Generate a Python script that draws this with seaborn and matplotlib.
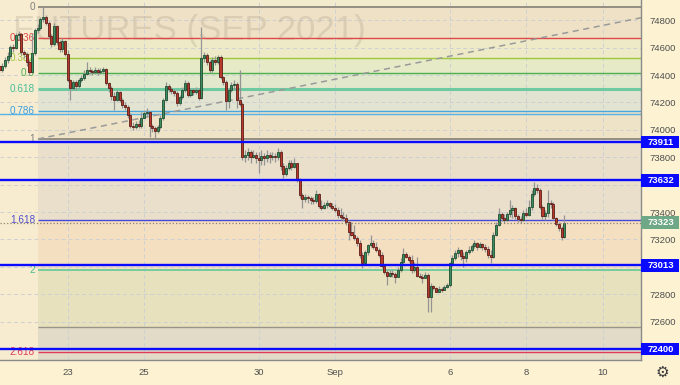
import numpy as np
import seaborn as sns
import matplotlib.pyplot as plt
from matplotlib import transforms
from matplotlib.patches import Rectangle

# hourly bars, 14 per session: Aug 19 (from 4th bar) .. Sep 9 (first bar)
first_open = 74466
closes = [74437, 74466, 74510, 74539, 74605, 74598, 74692, 74700, 74568, 74554,
          74495, 74422, 74561, 74729, 74744, 74809, 74824, 74780, 74685, 74627,
          74758, 74641, 74590, 74649, 74554, 74364, 74306, 74349, 74320, 74364,
          74379, 74408, 74437, 74430, 74422, 74437, 74422, 74430, 74444, 74342,
          74306, 74247, 74218, 74276, 74218, 74181, 74167, 74108, 74028, 74021,
          74043, 74028, 74087, 74123, 74130, 74028, 74014, 73992, 74021, 74087,
          74218, 74320, 74298, 74284, 74269, 74196, 74240, 74291, 74342, 74254,
          74291, 74276, 74291, 74233, 74525, 74546, 74495, 74437, 74510, 74495,
          74532, 74386, 74349, 74211, 74291, 74327, 74335, 74218, 74189, 73802,
          73817, 73838, 73802, 73817, 73795, 73780, 73809, 73795, 73817, 73802,
          73809, 73802, 73838, 73736, 73678, 73722, 73758, 73729, 73758, 73634,
          73525, 73495, 73510, 73503, 73488, 73481, 73532, 73444, 73430, 73452,
          73466, 73444, 73430, 73415, 73379, 73364, 73357, 73327, 73254, 73233,
          73211, 73174, 73087, 73028, 73108, 73160, 73174, 73145, 73123, 73087,
          73006, 72962, 72933, 72955, 72948, 72926, 72977, 73035, 73094, 73072,
          73050, 72977, 72999, 72933, 72926, 72919, 72941, 72780, 72860, 72846,
          72816, 72838, 72831, 72853, 72868, 73028, 73065, 73101, 73123, 73079,
          73065, 73108, 73123, 73152, 73174, 73145, 73167, 73145, 73130, 73087,
          73072, 73233, 73306, 73386, 73357, 73342, 73386, 73415, 73430, 73371,
          73349, 73342, 73393, 73379, 73437, 73532, 73576, 73561, 73437, 73371,
          73393, 73466, 73459, 73357, 73313, 73284, 73218, 73323]
highs = [74481, 74488, 74532, 74568, 74619, 74627, 74707, 74722, 74707, 74583,
         74568, 74510, 74707, 74744, 74773, 74824, 74897, 74838, 74795, 74700,
         74780, 74765, 74656, 74671, 74656, 74583, 74371, 74364, 74364, 74379,
         74400, 74437, 74495, 74459, 74444, 74459, 74452, 74452, 74459, 74452,
         74349, 74320, 74276, 74291, 74284, 74233, 74203, 74181, 74123, 74057,
         74065, 74072, 74130, 74145, 74160, 74138, 74043, 74028, 74035, 74108,
         74233, 74349, 74335, 74313, 74298, 74284, 74254, 74313, 74364, 74357,
         74306, 74306, 74313, 74306, 74751, 74568, 74561, 74510, 74532, 74539,
         74546, 74546, 74393, 74364, 74306, 74349, 74364, 74349, 74437, 74203,
         73853, 73868, 73853, 73853, 73838, 73838, 73853, 73831, 73853, 73838,
         73838, 73831, 73868, 73853, 73758, 73744, 73780, 73780, 73795, 73736,
         73649, 73539, 73532, 73525, 73517, 73510, 73561, 73539, 73488, 73473,
         73488, 73473, 73466, 73459, 73437, 73430, 73400, 73386, 73342, 73327,
         73306, 73225, 73196, 73108, 73123, 73167, 73233, 73196, 73181, 73138,
         73108, 73021, 72977, 72977, 72977, 72962, 72999, 73065, 73138, 73108,
         73087, 73087, 73035, 73072, 72955, 72948, 72962, 72955, 72882, 72868,
         72853, 72860, 72853, 72868, 72882, 73035, 73087, 73123, 73145, 73130,
         73108, 73123, 73152, 73167, 73196, 73181, 73181, 73174, 73167, 73152,
         73123, 73254, 73327, 73430, 73400, 73386, 73400, 73488, 73452, 73437,
         73386, 73371, 73415, 73430, 73488, 73561, 73619, 73605, 73576, 73452,
         73415, 73561, 73488, 73473, 73364, 73327, 73298, 73379]
lows = [74408, 74422, 74452, 74488, 74525, 74568, 74590, 74656, 74546, 74525,
        74466, 74400, 74415, 74546, 74707, 74729, 74787, 74765, 74671, 74605,
        74612, 74619, 74568, 74568, 74539, 74349, 74218, 74291, 74291, 74306,
        74349, 74364, 74400, 74408, 74400, 74408, 74400, 74408, 74415, 74327,
        74276, 74218, 74145, 74211, 74203, 74160, 74145, 74087, 74014, 73999,
        74006, 74014, 74014, 74087, 74101, 73948, 73984, 73941, 73977, 74006,
        74072, 74211, 74276, 74262, 74247, 74174, 74181, 74225, 74276, 74240,
        74240, 74254, 74262, 74218, 74225, 74495, 74473, 74415, 74422, 74473,
        74481, 74371, 74327, 74145, 74160, 74276, 74291, 74160, 74174, 73780,
        73765, 73780, 73758, 73795, 73758, 73685, 73744, 73744, 73765, 73758,
        73780, 73765, 73780, 73707, 73649, 73663, 73707, 73707, 73722, 73619,
        73503, 73430, 73473, 73466, 73459, 73459, 73466, 73430, 73415, 73422,
        73430, 73430, 73415, 73400, 73357, 73342, 73335, 73306, 73196, 73225,
        73196, 73152, 73065, 72992, 73021, 73087, 73145, 73130, 73108, 73072,
        72992, 72948, 72868, 72926, 72926, 72882, 72933, 72962, 73021, 73065,
        73035, 72955, 72962, 72926, 72919, 72882, 72926, 72670, 72670, 72831,
        72816, 72816, 72816, 72831, 72846, 72853, 73006, 73050, 73072, 73050,
        72999, 73035, 73094, 73108, 73138, 73123, 73138, 73123, 73108, 73065,
        73028, 73065, 73225, 73298, 73335, 73320, 73335, 73364, 73357, 73349,
        73327, 73320, 73335, 73364, 73371, 73415, 73517, 73539, 73422, 73349,
        73342, 73364, 73430, 73342, 73298, 73262, 73196, 73211]

day_labels = ['23', '25', '30', 'Sep', '6', '8', '10']
day_bars = [25, 53, 95, 123, 165, 193, 221]
price_ticks = list(range(72600, 74801, 200))
hidden_ticks = [73000, 73600]   # covered by the level boxes

fib_levels = [0, 0.236, 0.382, 0.5, 0.618, 0.786, 1, 1.618, 2, 2.618]
fib_labels = ['0', '0.236', '0.382', '0.5', '0.618', '0.786', '1', '1.618', '2', '2.618']
fib_colors = ['#8c887c', '#e04848', '#9cc83c', '#4cb050', '#6fcaa2', '#45a6e0',
              '#8c887c', '#4848d8', '#6cc89c', '#e03a5a']
fib_text_colors = ['#808080', '#e04848', '#9cc83c', '#4cb050', '#45c09a', '#3a9fe0',
                   '#808080', '#5050d0', '#45c08e', '#e03a5a']
fib_widths = [1.3, 1, 1, 1, 2.2, 1, 1.3, 1, 1.3, 1]
fib_high = 74894
fib_low = 73934
fib_start = 14.1
band_colors = ['#eee1c6', '#eeeac8', '#e6eac7', '#e1e8cc', '#e2e4d1', '#efe3c7',
               '#e9dfcb', '#f5dfc1']

blue_levels = [73911, 73632, 73013, 72400]
last_price = 73323
ray_level = 74115
gray_level = 72560
trend_x = [14.1, 236]
trend_y = [73934, 74822]

sns.set_theme(style='white')
plt.rcParams['font.family'] = ['Liberation Sans', 'DejaVu Sans']

closes = np.array(closes)
opens = np.array([first_open] + list(closes[:-1]))
highs = np.maximum(np.array(highs), np.maximum(opens, closes))
lows = np.minimum(np.array(lows), np.minimum(opens, closes))
idx = np.arange(len(closes))

x0, x1 = 0.19, 235.1
y0, y1 = 72320, 74948

fig = plt.figure(figsize=(6.8, 3.85), dpi=100, facecolor='#fdf3d3')
ax = fig.add_axes([0, 25 / 385, 641 / 680, 360 / 385])
ax.set_facecolor('#f7ecd0')
ax.set_xlim(x0, x1)
ax.set_ylim(y0, y1)

# fib background bands
fib_prices = [fib_high - l * (fib_high - fib_low) for l in fib_levels]
fx = (fib_start - x0) / (x1 - x0)
ax.axhspan(fib_prices[0], y1, xmin=fx, xmax=1, color='#f2ebcd', lw=0, zorder=0.2)
for top, bot, col in zip(fib_prices[:8], fib_prices[1:9], band_colors):
    ax.axhspan(bot, top, xmin=fx, xmax=1, color=col, lw=0, zorder=0.2)
ax.axhspan(gray_level, fib_prices[8], xmin=fx, xmax=1, color='#e8e1be', lw=0, zorder=0.2)
ax.axhspan(y0, gray_level, xmin=fx, xmax=1, color='#e2dbc7', lw=0, zorder=0.2)

ax.grid(True, color='#cdd0d2', ls=(0, (4, 3)), lw=0.7)
ax.set_axisbelow(True)

for p, lab, c, tc, w in zip(fib_prices, fib_labels, fib_colors, fib_text_colors, fib_widths):
    ax.hlines(p, fib_start, x1, color=c, lw=w, zorder=2)
    ax.text(13.0, p, lab, color=tc, fontsize=7.2, ha='right', va='center', zorder=2)
ax.hlines(gray_level, fib_start, x1, color='#9a9488', lw=1, zorder=2)
ax.axhline(ray_level, color='#55b2e6', lw=1, zorder=2)

# watermark
ax.text(5.0, 74729, 'FUTURES (SEP 2021)', fontsize=25, color='#8a806c', alpha=0.2,
        ha='left', va='center', zorder=1.5,
        family=['Liberation Sans Narrow', 'Liberation Sans'])

sns.lineplot(x=trend_x, y=trend_y, ax=ax, color='#9a9a9a', lw=1.1,
             linestyle=(0, (4, 3)), zorder=2.5)

# candles
ax.vlines(idx, lows, highs, color='#949494', lw=0.9, zorder=3)
up = closes >= opens
dn = ~up
h_up = np.maximum(closes - opens, 5)
h_dn = np.maximum(opens - closes, 5)
ax.bar(idx[up], h_up[up], bottom=opens[up], width=0.75, color='#3c8e5e',
       edgecolor='#1f4d31', lw=0.6, zorder=4)
ax.bar(idx[dn], h_dn[dn], bottom=closes[dn], width=0.75, color='#b83a2d',
       edgecolor='#5c1d16', lw=0.6, zorder=4)

for p in blue_levels:
    ax.axhline(p, color='#0a0aff', lw=1.7, zorder=5)
ax.axhline(last_price, color='#8d806c', lw=0.9, ls=':', zorder=5)

# axes styling
for s in ['top', 'left']:
    ax.spines[s].set_visible(False)
for s in ['right', 'bottom']:
    ax.spines[s].set_color('#8a8a8a')
    ax.spines[s].set_linewidth(1)
ax.yaxis.tick_right()
ax.set_yticks(price_ticks)
ax.set_yticklabels(['' if p in hidden_ticks else str(p) for p in price_ticks])
ax.set_xticks(day_bars)
ax.set_xticklabels(day_labels)
ax.tick_params(axis='y', length=0, pad=6, labelsize=6.8, labelcolor='#4d4d4d')
ax.tick_params(axis='x', length=0, pad=5.5, labelsize=6.8, labelcolor='#4d4d4d')

# price boxes on the right scale
tr = transforms.blended_transform_factory(ax.transAxes, ax.transData)
for p, col in [(73911, '#0a0aff'), (73632, '#0a0aff'), (73013, '#0a0aff'),
               (72400, '#0a0aff'), (last_price, '#6ea886')]:
    ax.add_patch(Rectangle((1.0, p - 47), 38 / 641, 94, transform=tr, facecolor=col,
                           edgecolor='none', clip_on=False, zorder=10))
    ax.text(1.0 + 7 / 641, p, str(p), transform=tr, color='white', fontsize=6.8,
            fontweight='bold', ha='left', va='center', clip_on=False, zorder=11)

fig.text(662 / 680, 1 - 372 / 385, '\u2699', fontsize=11, color='#3a3a3a',
         ha='center', va='center', family='DejaVu Sans')

fig.savefig('out.png', dpi=100, facecolor=fig.get_facecolor())
